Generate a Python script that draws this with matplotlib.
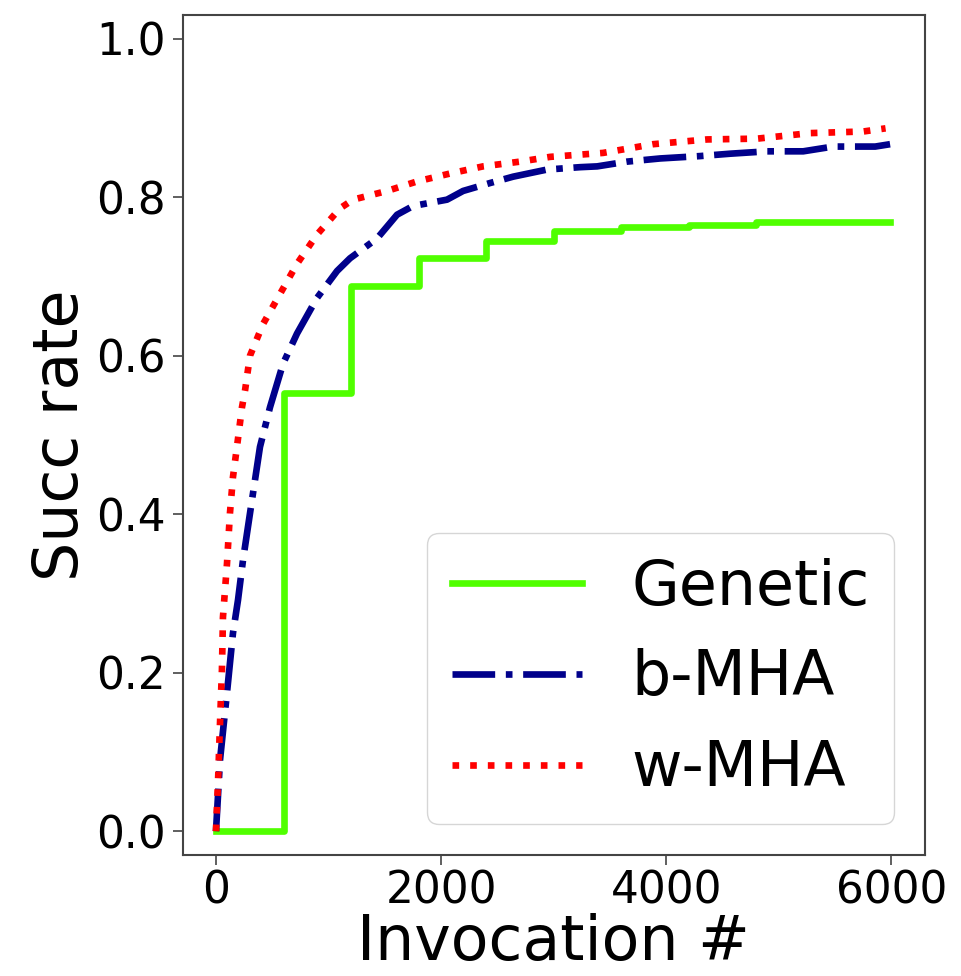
import numpy as np
import matplotlib.pyplot as plt

# Genetic: evaluated once per generation (600 invocations each)
gen_x = [0, 600, 1200, 1800, 2400, 3000, 3600, 4200, 4800, 5990]
gen_y = [0.0, 0.553, 0.688, 0.724, 0.745, 0.757, 0.762, 0.765, 0.769, 0.769]

# b-MHA
bmha_x = [0, 36, 98, 151, 196, 240, 320, 391, 480, 596, 720, 898, 1076, 1191,
          1431, 1609, 1751, 2053, 2196, 2436, 2640, 2942, 3236, 3387, 3653,
          3947, 4302, 4569, 4898, 5218, 5484, 5858, 5990]
bmha_y = [0.0, 0.09, 0.175, 0.25, 0.292, 0.342, 0.418, 0.485, 0.535, 0.59, 0.628,
          0.673, 0.707, 0.723, 0.748, 0.778, 0.789, 0.797, 0.808, 0.818, 0.826,
          0.835, 0.838, 0.839, 0.845, 0.849, 0.852, 0.855, 0.858, 0.858, 0.864,
          0.864, 0.867]

# w-MHA
wmha_x = [0, 20, 36, 53, 62, 98, 124, 151, 190, 231, 258, 302, 418, 569, 720,
          898, 1102, 1218, 1520, 1787, 2080, 2373, 2702, 2969, 3440, 3884, 4364,
          4809, 5280, 5751, 5950]
wmha_y = [0.0, 0.07, 0.137, 0.204, 0.27, 0.338, 0.401, 0.447, 0.489, 0.535, 0.556,
          0.6, 0.64, 0.678, 0.716, 0.753, 0.786, 0.797, 0.808, 0.82, 0.83, 0.839,
          0.845, 0.851, 0.856, 0.867, 0.873, 0.874, 0.881, 0.883, 0.887]

fig = plt.figure(figsize=(9.62, 9.76), dpi=100)
ax = fig.add_axes([0.190, 0.124, 0.7715, 0.8606])

lw = 4.8
ax.plot(gen_x, gen_y, color='#50ff00', linestyle='-', linewidth=lw,
        drawstyle='steps-post', label='Genetic')
ax.plot(bmha_x, bmha_y, color='#00008b', linestyle='-.', linewidth=lw, label='b-MHA')
ax.plot(wmha_x, wmha_y, color='red', linestyle=':', linewidth=lw, label='w-MHA')

ax.set_xlim(-295, 6300)
ax.set_ylim(-0.03, 1.03)
ax.set_xticks([0, 2000, 4000, 6000])
ax.set_yticks(np.arange(0, 1.01, 0.2))
ax.tick_params(labelsize=31.5, length=7, width=1.2, color='#444444')
ax.tick_params(axis='y', pad=5)
for s in ax.spines.values():
    s.set_color('#444444')
    s.set_linewidth(1.5)

ax.set_xlabel('Invocation #', fontsize=44.5, labelpad=0)
ax.set_ylabel('Succ rate', fontsize=44.5, labelpad=4)
ax.legend(loc='lower right', fontsize=44.5, handlelength=2.1)

fig.savefig('out.png', dpi=100)
